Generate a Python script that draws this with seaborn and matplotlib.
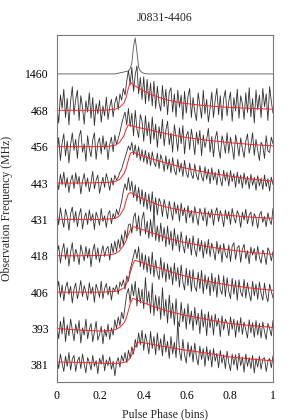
import numpy as np
import pandas as pd
import matplotlib
matplotlib.use("Agg")
import matplotlib.pyplot as plt
import seaborn as sns

# tick labels (bottom -> top)
freq_labels = ["381", "393", "406", "418", "431", "443", "456", "468", "1460"]

# profiles in hundredths of the offset step, 128 bins across phase 0..1
p1460 = [
 0, 0, 0, 0, 0, 0, 0, 0, 0, 0,
 0, 0, 0, 0, 0, 0, 0, 0, 0, 0,
 0, 0, 0, 0, 0, 0, 0, 0, 0, 0,
 0, 0, 0, 0, 0, 1, 2, 3, 4, 5,
 6, 7, 9, 14, 30, 75, 99, 60, 18, 8,
 4, 2, 1, 0, 0, 0, 0, 0, 0, 0,
 0, 0, 0, 0, 0, 0, 0, 0, 0, 0,
 0, 0, 0, 0, 0, 0, 0, 0, 0, 0,
 0, 0, 0, 0, 0, 0, 0, 0, 0, 0,
 0, 0, 0, 0, 0, 0, 0, 0, 0, 0,
 0, 0, 0, 0, 0, 0, 0, 0, 0, 0,
 0, 0, 0, 0, 0, 0, 0, 0, 0, 0,
 0, 0, 0, 0, 0, 0, 0, 0]

p468 = [
 10, -35, 42, 5, 58, -20, 33, -40, 25, 65,
 -12, 30, 55, -28, 40, 8, -38, 26, -5, 48,
 -22, 35, -42, 18, -10, 27, -33, 12, -15, 36,
 -25, 10, 30, -18, 20, 38, 2, 45, 28, 60,
 42, 80, 110, 70, 118, 52, 98, 122, 45, 90,
 30, 92, 18, 85, 25, 75, 12, 80, 5, 66,
 20, -2, 68, 10, 58, -12, 50, 62, -5, 45,
 -18, 55, 8, 42, -25, 52, -8, 38, 60, -20,
 35, -4, -28, 48, 12, -22, 55, -10, 30, -32,
 5, 50, -20, 28, 60, -12, 40, -28, 32, 55,
 -15, 25, 50, -30, 35, -2, 58, -22, 40, 18,
 -25, 48, -6, 62, -18, 32, -35, 55, 2, 42,
 -20, 60, 10, 45, -28, 65, 25, -8]

p456 = [
 -20, 25, -38, 10, 35, -25, 15, -45, 5, 38,
 -10, 20, -32, 28, 45, -15, 8, -40, 30, -5,
 -28, 18, 38, -35, 10, 24, -20, 30, -8, 15,
 -36, 6, 26, -14, 32, 6, 22, 40, 62, 80,
 95, 60, 105, 55, 92, 30, 100, 48, 25, 88,
 70, 15, 85, 30, 68, 8, 82, 20, 62, -2,
 55, 22, 75, 2, 45, 70, 5, 38, -15, 60,
 28, -12, 52, 8, 58, -20, 30, 42, -8, 48,
 18, -22, 40, 6, 45, -25, 32, -2, 20, 50,
 -15, 28, -28, 22, 42, -5, -32, 30, 12, -18,
 38, -18, 26, -2, -35, 32, 8, -26, 24, -6,
 -30, 15, 35, -18, 6, 38, -24, 20, -10, -38,
 12, 2, -32, 30, -12, -16, 26, 8]

p443 = [
 10, -18, 24, -5, 30, -12, 15, -26, 6, 22,
 -15, 28, -3, 18, -30, 5, 26, -10, 14, -24,
 2, 32, -16, 8, 22, -28, -4, 16, -12, 26,
 6, -20, 14, -6, 22, 8, 16, 30, 38, 55,
 70, 85, 102, 90, 112, 78, 105, 70, 100, 62,
 92, 58, 90, 52, 84, 48, 86, 58, 45, 82,
 40, 78, 62, 32, 75, 38, 66, 28, 70, 35,
 22, 65, 30, 55, 18, 62, 28, 15, 55, 25,
 12, 52, 20, 8, 48, 18, 5, 45, 10, 38,
 -2, 42, 8, 30, -5, 38, 12, -8, 35, 6,
 30, -8, 34, 4, 26, -12, 30, -2, 22, -14,
 28, -4, 18, -16, 24, -6, 16, -20, 20, -8,
 14, -18, 22, -10, 12, -22, 16, -4]

p431 = [
 24, -15, 32, 2, -22, 28, 8, -30, 16, 34,
 -8, 22, -20, 12, 30, -26, 4, 18, -14, 26,
 -5, 15, -28, 20, 6, -16, 30, -6, 10, -22,
 14, 24, -12, 16, 2, 28, 12, 30, 50, 78,
 98, 80, 115, 78, 105, 60, 95, 50, 88, 42,
 82, 35, 75, 28, 70, 22, 76, 18, 60, 12,
 58, 45, 8, 55, 30, 2, 50, 25, -2, 48,
 15, 40, -5, 45, 10, 32, -10, 38, 5, 25,
 -10, 35, 8, -16, 30, 15, -4, 32, -18, 22,
 4, 28, -16, 18, 32, -6, 24, 8, -20, 26,
 0, 22, -14, 30, 6, -10, 24, 12, -22, 20,
 -2, 28, -12, 12, 20, -18, 16, 4, -24, 12,
 22, -8, 8, -20, 18, -2, -14, 30]

p418 = [
 5, 28, -20, 14, 34, -10, 22, -28, 10, 36,
 -16, 18, 2, -24, 30, 8, -14, 26, -6, 20,
 -30, 12, 32, -10, 22, -18, 8, 28, -2, 18,
 26, -12, 34, 8, 40, 12, 45, 20, 58, 30,
 70, 48, 85, 88, 62, 105, 118, 68, 110, 55,
 102, 120, 60, 95, 48, 100, 52, 128, 42, 82,
 38, 90, 40, 78, 25, 82, 30, 68, 15, 75,
 28, 58, 12, 66, 30, 8, 56, 20, 48, 2,
 55, 18, -2, 48, 12, 42, -6, 38, 5, 45,
 -2, 35, 14, -12, 40, 6, 30, -18, 34, 4,
 -6, 30, -16, 26, 36, -10, 22, 28, -18, 18,
 32, -8, 14, -22, 24, 2, 20, -14, 26, -4,
 -20, 16, 4, -24, 22, 10, -14, 12]

p406 = [
 4, 30, -14, 20, -24, 12, 28, -6, 16, -30,
 8, 25, -18, 4, 32, -12, 18, 0, -22, 26,
 -5, 14, -28, 22, 6, -14, 30, -18, 10, 24,
 -8, 16, -22, 12, 4, 20, -6, 28, 16, 34,
 8, 45, 30, 62, 80, 100, 118, 92, 125, 70,
 108, 62, 102, 55, 98, 50, 110, 42, 88, 52,
 35, 95, 40, 82, 28, 78, 35, 70, 20, 80,
 30, 68, 14, 75, 28, 6, 66, 18, 60, 2,
 62, 15, 2, 55, 10, 60, -4, 48, 8, 42,
 -10, 52, 2, 40, -14, 48, 8, -6, 45, -12,
 40, 2, -18, 38, -6, 32, -22, 34, 0, -12,
 35, -16, 26, -4, -24, 30, -10, 22, -20, 28,
 -4, -22, 25, -10, -26, 22, 2, -16]

p393 = [
 6, -28, 20, -15, 32, -36, 10, -20, 26, -4,
 -34, 12, -14, 22, -40, 2, -18, 26, -28, -2,
 14, -36, -10, 20, -32, -16, 6, -42, -2, -22,
 12, -30, 2, -18, 24, 0, 32, 8, 45, 26,
 60, 95, 110, 72, 122, 90, 130, 62, 112, 70,
 108, 55, 140, 68, 102, 42, 125, 36, 92, 48,
 88, 25, 112, 35, 80, 15, 92, 28, 70, 10,
 82, 20, 5, 72, 18, 55, -2, 68, 12, 48,
 -5, 58, 10, 42, -14, 52, 4, 40, -20, 46,
 2, 36, -18, 40, 6, 28, -22, 35, -4, 26,
 14, -20, 32, -2, 26, -24, 22, -10, 30, -16,
 18, -4, -26, 24, -12, 16, -24, 22, -18, 14,
 -26, 18, -8, -30, 14, 0, -20, 22]

p381 = [
 20, -10, 30, 4, -18, 24, -4, 34, -14, 16,
 26, -18, 10, 22, -10, 30, 2, -22, 20, 8,
 -14, 26, -4, 12, -24, 18, 2, 28, -16, 14,
 -2, 22, -12, 10, -30, 6, 20, -6, 26, 10,
 34, 6, 40, 18, 50, 30, 70, 48, 88, 55,
 95, 40, 85, 62, 30, 92, 45, 78, 28, 88,
 40, 72, 25, 85, 35, 65, 18, 78, 30, 62,
 20, 120, 38, 12, 70, 28, 5, 62, 22, 52,
 8, 60, 20, 0, 52, 15, 45, -4, 50, 12,
 42, -6, 45, 10, 32, -8, 40, 5, 28, -10,
 38, 6, -16, 30, 0, 28, -14, 32, -2, 22,
 -20, 30, -4, 20, -10, 26, -22, 18, -6, 24,
 -12, 16, 20, -18, 10, 18, -8, 25]

# scattering fits (red), same units, sampled at fit_phase
fit_phase = [0, 0.1, 0.2, 0.24, 0.27, 0.29, 0.31, 0.32, 0.33, 0.34, 0.35, 0.36,
             0.37, 0.38, 0.40, 0.43, 0.47, 0.52, 0.58, 0.65, 0.72, 0.80, 0.90, 1.0]
f468 = [0, 0, 0, 1, 3, 8, 20, 35, 60, 77, 72, 68, 64, 60, 54, 45, 36, 27, 20, 15, 11, 8, 5, 3]
f456 = [0, 0, 0, 1, 4, 12, 30, 48, 60, 58, 57, 55, 54, 52, 50, 46, 40, 34, 27, 21, 16, 11, 6, 2]
f443 = [0, 0, 1, 2, 4, 10, 25, 40, 62, 82, 85, 83, 80, 78, 74, 68, 61, 53, 43, 34, 26, 19, 11, 5]
f431 = [0, 0, 0, 1, 3, 10, 30, 52, 70, 74, 71, 68, 65, 62, 56, 49, 40, 32, 25, 19, 14, 11, 6, 3]
f418 = [0, 0, 1, 2, 6, 14, 30, 42, 58, 72, 80, 79, 77, 75, 71, 65, 57, 47, 38, 30, 23, 16, 9, 4]
f406 = [0, 0, 0, 1, 2, 5, 12, 20, 35, 55, 75, 88, 86, 84, 80, 74, 67, 57, 46, 36, 27, 19, 11, 5]
f393 = [0, -4, -7, -6, -3, 3, 15, 28, 48, 70, 83, 81, 79, 76, 71, 64, 56, 47, 38, 30, 22, 14, 8, 3]
f381 = [8, 7, 5, 4, 4, 5, 7, 9, 13, 20, 32, 47, 60, 63, 61, 58, 53, 48, 42, 36, 30, 22, 16, 11]

profiles = [p381, p393, p406, p418, p431, p443, p456, p468, p1460]
fits = [f381, f393, f406, f418, f431, f443, f456, f468, None]

sns.set_theme(style="white")
plt.rcParams["font.family"] = ["Liberation Serif", "DejaVu Serif"]
plt.rcParams["font.size"] = 8.5

fig = plt.figure(figsize=(2.94, 4.2), dpi=100)
ax = fig.add_axes([57 / 294, 38 / 420, 216 / 294, 347 / 420])

for k, (prof, fit) in enumerate(zip(profiles, fits)):
    phase = np.linspace(0, 1, len(prof))
    y = k + np.array(prof) / 100.0
    col = "#555555" if fit is None else "#303030"
    sns.lineplot(x=phase, y=y, ax=ax, color=col, lw=0.6, estimator=None)
    if fit is not None:
        sns.lineplot(x=fit_phase, y=k + np.array(fit) / 100.0, ax=ax,
                     color="#ff2020", lw=0.7, estimator=None)

ax.set_xlim(0, 1)
ax.set_ylim(-0.47, 9.07)
ax.set_xticks([0, 0.2, 0.4, 0.6, 0.8, 1.0])
ax.set_xticklabels(["0", "0.2", "0.4", "0.6", "0.8", "1"])
ax.set_yticks(range(len(freq_labels)))
ax.set_yticklabels(freq_labels)
ax.tick_params(length=0, labelsize=8.5, colors="black")
ax.tick_params(axis="x", pad=6)
ax.tick_params(axis="y", pad=6)
for s in ax.spines.values():
    s.set_color("#777777")
    s.set_linewidth(0.8)

ax.set_xlabel("Pulse Phase (bins)", fontsize=8.5, labelpad=4)
ax.set_ylabel("Observation Frequency (MHz)", fontsize=8.5, labelpad=9)
ax.set_title("J0831-4406", fontsize=8.5, pad=10)

fig.savefig("out.png", dpi=100)
